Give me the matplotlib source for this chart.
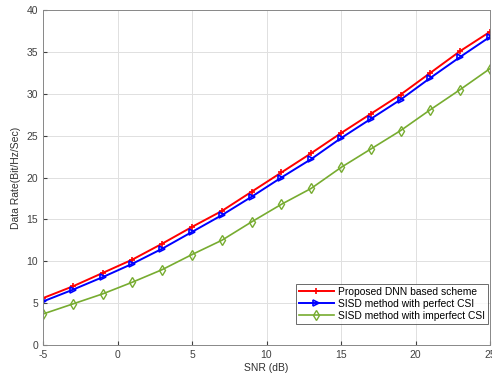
import matplotlib
matplotlib.use("Agg")
import matplotlib.pyplot as plt

snr_db = [-5, -3, -1, 1, 3, 5, 7, 9, 11, 13, 15, 17, 19, 21, 23, 25]
dnn_rate = [5.6, 7.0, 8.6, 10.2, 12.1, 14.1, 16.0, 18.3, 20.6, 22.9, 25.3, 27.6, 29.9, 32.5, 35.1, 37.4]
sisd_perfect = [5.2, 6.6, 8.1, 9.7, 11.5, 13.5, 15.5, 17.7, 20.0, 22.2, 24.7, 27.0, 29.3, 31.9, 34.4, 36.8]
sisd_imperfect = [3.7, 4.9, 6.1, 7.5, 9.0, 10.8, 12.5, 14.7, 16.8, 18.7, 21.2, 23.4, 25.6, 28.1, 30.5, 33.0]
labels = ["Proposed DNN based scheme",
          "SISD method with perfect CSI",
          "SISD method with imperfect CSI"]

plt.rcParams['font.family'] = ['Liberation Sans', 'DejaVu Sans']
plt.rcParams['axes.unicode_minus'] = False

fig = plt.figure(figsize=(4.92, 3.82), dpi=100)
ax = fig.add_axes([43 / 492, 37 / 382, 447 / 492, 335 / 382])

ax.plot(snr_db, dnn_rate, color='#ff0000', lw=1.4, marker='+', ms=5, mew=1.2,
        label=labels[0])
ax.plot(snr_db, sisd_perfect, color='#0000ff', lw=1.4, marker='>', ms=5,
        mfc='none', mew=1.2, label=labels[1])
ax.plot(snr_db, sisd_imperfect, color='#77ac30', lw=1.2, marker='d', ms=5,
        mfc='none', mew=1.0, label=labels[2])

ax.set_xlim(-5, 25)
ax.set_ylim(0, 40)
ax.set_xticks(range(-5, 26, 5))
ax.set_yticks(range(0, 41, 5))
ax.grid(True, color='#e0e0e0', lw=0.7)
ax.set_axisbelow(True)
ax.tick_params(labelsize=7.5, colors='#404040', length=3, direction='in')
for s in ax.spines.values():
    s.set_color('#888888')
    s.set_linewidth(0.7)

ax.set_xlabel("SNR (dB)", fontsize=7.5, color='#303030', labelpad=2)
ax.set_ylabel("Data Rate(Bit/Hz/Sec)", fontsize=7.5, color='#303030', labelpad=4)

leg = ax.legend(loc='lower right', bbox_to_anchor=(0.9955, 0.063),
                fontsize=7.4, frameon=True, fancybox=False,
                edgecolor='#444444', borderpad=0.3, labelspacing=0.2,
                handlelength=3.4, handletextpad=0.4, borderaxespad=0.0)
leg.get_frame().set_linewidth(0.7)

fig.savefig("out.png", dpi=100)
